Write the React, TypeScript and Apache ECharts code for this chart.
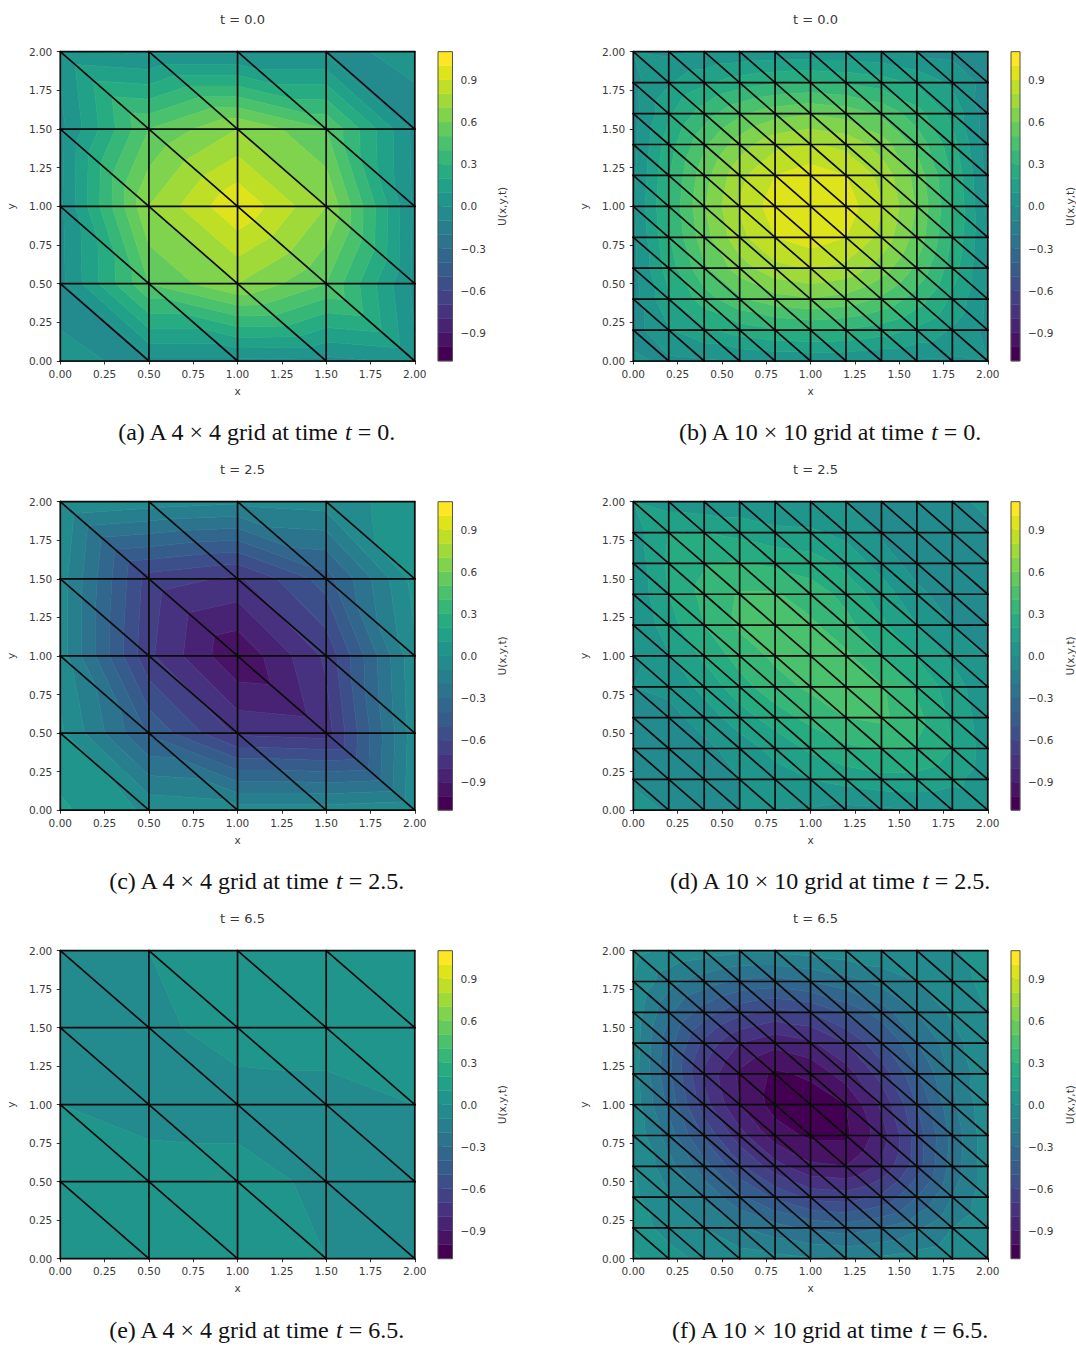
import React, { useEffect, useRef } from "react";
import * as echarts from "echarts";

const xTicksInterval = 0.25;
const colorbarTicks = [-0.9, -0.6, -0.3, 0, 0.3, 0.6, 0.9];
const levelMin = -1.1;
const levelStep = 0.1;
const levelCount = 22;
const viridisStops = ["#440154","#481567","#482677","#453781","#404788","#39568C","#33638D","#2D708E","#287D8E","#238A8D","#1F968B","#20A387","#29AF7F","#3CBB75","#55C667","#73D055","#95D840","#B8DE29","#DCE319","#FDE725"];

const titles = ["t = 0.0", "t = 0.0", "t = 2.5", "t = 2.5", "t = 6.5", "t = 6.5"];
const captions = [
  ["(a) A 4 × 4 grid at time ", "t", " = 0."],
  ["(b) A 10 × 10 grid at time ", "t", " = 0."],
  ["(c) A 4 × 4 grid at time ", "t", " = 2.5."],
  ["(d) A 10 × 10 grid at time ", "t", " = 2.5."],
  ["(e) A 4 × 4 grid at time ", "t", " = 6.5."],
  ["(f) A 10 × 10 grid at time ", "t", " = 6.5."],
];

// Nodal values, rows from y = 2 (top) to y = 0 (bottom), columns from x = 0 to x = 2
const panelA = [
  [0.02, -0.02, -0.02, -0.02, 0.02],
  [-0.03, 0.5, 0.7, 0.5, -0.03],
  [-0.02, 0.7, 0.99, 0.7, -0.02],
  [-0.03, 0.5, 0.7, 0.5, -0.03],
  [0.02, -0.02, -0.02, -0.03, 0.02],
];
const panelB = [
  [0.0, -0.02, 0.0, 0.02, 0.03, 0.03, 0.03, 0.02, -0.02, -0.03, 0.0],
  [-0.03, 0.09, 0.18, 0.25, 0.29, 0.31, 0.29, 0.25, 0.18, 0.08, -0.04],
  [-0.04, 0.18, 0.35, 0.48, 0.56, 0.59, 0.56, 0.48, 0.34, 0.17, -0.05],
  [-0.03, 0.25, 0.48, 0.65, 0.77, 0.81, 0.77, 0.65, 0.47, 0.24, -0.05],
  [-0.02, 0.29, 0.56, 0.77, 0.9, 0.95, 0.9, 0.77, 0.56, 0.29, -0.03],
  [-0.01, 0.31, 0.59, 0.81, 0.95, 0.99, 0.95, 0.81, 0.59, 0.31, -0.02],
  [-0.02, 0.29, 0.56, 0.77, 0.9, 0.95, 0.9, 0.77, 0.56, 0.29, -0.01],
  [-0.03, 0.25, 0.48, 0.65, 0.77, 0.81, 0.77, 0.65, 0.48, 0.25, -0.02],
  [-0.04, 0.18, 0.35, 0.48, 0.56, 0.59, 0.56, 0.48, 0.35, 0.18, -0.02],
  [-0.04, 0.09, 0.18, 0.25, 0.29, 0.31, 0.29, 0.25, 0.18, 0.09, -0.03],
  [0.02, -0.02, -0.01, 0.0, 0.02, 0.02, 0.02, 0.0, -0.01, -0.02, 0.0],
];
const panelC = [
  [0.0, -0.05, -0.08, -0.05, 0.05],
  [-0.05, -0.65, -0.72, -0.45, 0.04],
  [-0.05, -0.68, -0.99, -0.68, -0.02],
  [0.02, -0.42, -0.72, -0.75, -0.04],
  [0.12, -0.02, -0.05, -0.05, -0.02],
];
const panelD = [
  [0.1, 0.05, 0.03, 0.03, 0.0, 0.0, 0.0, -0.05, -0.06, -0.05, 0.05],
  [0.05, 0.2, 0.2, 0.17, 0.13, 0.12, 0.07, -0.02, -0.07, -0.08, -0.05],
  [0.03, 0.22, 0.29, 0.31, 0.28, 0.25, 0.17, 0.06, -0.05, -0.09, -0.1],
  [0.02, 0.2, 0.33, 0.41, 0.41, 0.35, 0.27, 0.15, 0.03, -0.06, -0.09],
  [0.0, 0.16, 0.3, 0.42, 0.44, 0.42, 0.33, 0.22, 0.1, 0.0, -0.06],
  [-0.01, 0.09, 0.22, 0.34, 0.42, 0.43, 0.42, 0.3, 0.19, 0.08, -0.01],
  [0.0, 0.03, 0.13, 0.26, 0.36, 0.42, 0.44, 0.41, 0.28, 0.15, 0.02],
  [-0.04, -0.04, 0.05, 0.15, 0.25, 0.33, 0.4, 0.42, 0.33, 0.18, 0.04],
  [-0.06, -0.07, -0.03, 0.05, 0.13, 0.22, 0.28, 0.31, 0.29, 0.2, 0.05],
  [-0.03, -0.07, -0.06, 0.0, 0.06, 0.1, 0.14, 0.17, 0.17, 0.13, 0.04],
  [0.08, -0.02, -0.05, 0.0, 0.0, -0.01, -0.03, -0.02, 0.0, 0.0, 0.03],
];
const panelE = [
  [-0.05, 0.0, 0.03, 0.04, 0.03],
  [-0.06, -0.03, 0.05, 0.05, 0.05],
  [0.0, -0.05, -0.05, -0.04, 0.0],
  [0.05, 0.06, 0.05, -0.03, -0.05],
  [0.05, 0.05, 0.05, 0.0, -0.04],
];
const panelF = [
  [0.03, -0.02, -0.05, -0.08, -0.08, -0.06, -0.04, -0.02, -0.02, -0.02, 0.08],
  [0.0, -0.16, -0.25, -0.32, -0.34, -0.3, -0.24, -0.17, -0.1, -0.03, 0.02],
  [-0.03, -0.28, -0.45, -0.57, -0.63, -0.6, -0.48, -0.35, -0.2, -0.08, 0.0],
  [-0.04, -0.36, -0.63, -0.8, -0.87, -0.82, -0.7, -0.52, -0.31, -0.14, -0.02],
  [-0.05, -0.38, -0.72, -0.92, -1.02, -0.98, -0.85, -0.66, -0.42, -0.18, -0.03],
  [-0.04, -0.33, -0.66, -0.9, -1.04, -1.06, -1.0, -0.78, -0.5, -0.23, -0.02],
  [-0.02, -0.25, -0.52, -0.76, -0.95, -1.02, -1.02, -0.85, -0.56, -0.27, -0.03],
  [0.0, -0.16, -0.36, -0.58, -0.76, -0.88, -0.9, -0.78, -0.55, -0.26, -0.03],
  [0.02, -0.09, -0.22, -0.38, -0.52, -0.63, -0.65, -0.58, -0.4, -0.2, -0.03],
  [0.04, -0.03, -0.1, -0.19, -0.26, -0.32, -0.35, -0.3, -0.22, -0.1, -0.01],
  [0.12, 0.03, -0.02, -0.05, -0.07, -0.09, -0.1, -0.08, -0.05, -0.02, 0.0],
];
const panels = [panelA, panelB, panelC, panelD, panelE, panelF];

const plotLeft = [60.3, 633.3];
const plotWidth = 354.5;
const cbarLeft = [438, 1011];
const cbarWidth = 14.5;
const rowTop = [51.7, 501.7, 950.7];
const rowHeight = [309.3, 308.5, 308];
const titleTop = [8, 458, 907];
const captionY = [432, 881, 1330];
const captionX = [256, 829.5];

const FONT = "DejaVu Sans";
const TXT = "#3a3a3a";

function hexToRgb(h: string) {
  return [parseInt(h.slice(1, 3), 16), parseInt(h.slice(3, 5), 16), parseInt(h.slice(5, 7), 16)];
}
function bandColor(i: number) {
  const p = (i / (levelCount - 1)) * (viridisStops.length - 1);
  const a = Math.min(Math.floor(p), viridisStops.length - 2);
  const f = p - a;
  const c0 = hexToRgb(viridisStops[a]);
  const c1 = hexToRgb(viridisStops[a + 1]);
  return `rgb(${c0.map((c, k) => Math.round(c + (c1[k] - c) * f)).join(",")})`;
}

type P = [number, number, number];
function clip(poly: P[], level: number, keepAbove: boolean): P[] {
  const out: P[] = [];
  for (let i = 0; i < poly.length; i++) {
    const a = poly[i];
    const b = poly[(i + 1) % poly.length];
    const ia = keepAbove ? a[2] >= level : a[2] <= level;
    const ib = keepAbove ? b[2] >= level : b[2] <= level;
    if (ia) out.push(a);
    if (ia !== ib) {
      const t = (level - a[2]) / (b[2] - a[2]);
      out.push([a[0] + (b[0] - a[0]) * t, a[1] + (b[1] - a[1]) * t, level]);
    }
  }
  return out;
}

function triangles(values: number[][]) {
  const n = values.length - 1;
  const d = 2 / n;
  const res: number[][] = [];
  for (let r = 0; r < n; r++) {
    for (let c = 0; c < n; c++) {
      const xl = c * d, xr = (c + 1) * d, yt = 2 - r * d, yb = 2 - (r + 1) * d;
      const tl = values[r][c], tr = values[r][c + 1], bl = values[r + 1][c], br = values[r + 1][c + 1];
      res.push([xl, yt, tl, xr, yt, tr, xr, yb, br]);
      res.push([xl, yt, tl, xl, yb, bl, xr, yb, br]);
    }
  }
  return res;
}

function edges(cells: number) {
  const d = 2 / cells;
  const res: number[][] = [];
  for (let r = 0; r <= cells; r++) {
    for (let c = 0; c <= cells; c++) {
      const x = c * d, y = 2 - r * d;
      if (c < cells) res.push([x, y, x + d, y]);
      if (r < cells) res.push([x, y, x, y - d]);
      if (c < cells && r < cells) res.push([x, y, x + d, y - d]);
    }
  }
  return res;
}

function renderContour(_: any, api: any) {
  const v = [0, 1, 2, 3, 4, 5, 6, 7, 8].map((k) => api.value(k) as number);
  const tri: P[] = [[v[0], v[1], v[2]], [v[3], v[4], v[5]], [v[6], v[7], v[8]]];
  const children: any[] = [];
  for (let i = 0; i < levelCount; i++) {
    const lo = levelMin + i * levelStep;
    const hi = lo + levelStep;
    let poly = clip(tri, lo, true);
    if (poly.length) poly = clip(poly, hi, false);
    if (poly.length < 3) continue;
    const color = bandColor(i);
    children.push({
      type: "polygon",
      shape: { points: poly.map((p) => api.coord([p[0], p[1]])) },
      style: { fill: color, stroke: color, lineWidth: 0.6 },
    });
  }
  return { type: "group", children };
}

function renderMesh(_: any, api: any) {
  const a = api.coord([api.value(0), api.value(1)]);
  const b = api.coord([api.value(2), api.value(3)]);
  return {
    type: "line",
    shape: { x1: a[0], y1: a[1], x2: b[0], y2: b[1] },
    style: { stroke: "#0a0a0a", lineWidth: 1.7, lineCap: "round" },
  };
}

function renderBand(_: any, api: any) {
  const lo = api.value(0), hi = api.value(1);
  const a = api.coord([0, hi]);
  const b = api.coord([1, lo]);
  return {
    type: "rect",
    shape: { x: a[0], y: a[1], width: b[0] - a[0], height: b[1] - a[1] },
    style: api.value(2) < 0
      ? { fill: "none", stroke: "#555", lineWidth: 1 }
      : { fill: bandColor(api.value(2)), stroke: bandColor(api.value(2)), lineWidth: 0.4 },
  };
}

function buildOption() {
  const grid: any[] = [], xAxis: any[] = [], yAxis: any[] = [], series: any[] = [], title: any[] = [], graphic: any[] = [];
  panels.forEach((vals, idx) => {
    const col = idx % 2, row = Math.floor(idx / 2);
    const g = grid.length;
    grid.push({ left: plotLeft[col], top: rowTop[row], width: plotWidth, height: rowHeight[row] });
    const tickLabel = { fontFamily: FONT, fontSize: 10.5, color: TXT, formatter: (v: number) => v.toFixed(2) };
    const axisCommon = {
      type: "value", min: 0, max: 2, interval: xTicksInterval, gridIndex: g,
      splitLine: { show: false },
      axisLine: { show: true, onZero: false, lineStyle: { color: "#333", width: 1 } },
      axisTick: { show: true, length: 3.5, lineStyle: { color: "#333", width: 1 } },
      nameLocation: "middle",
      nameTextStyle: { fontFamily: FONT, fontSize: 10.5, color: TXT },
    };
    xAxis.push({ ...axisCommon, position: "bottom", name: "x", nameGap: 24, axisLabel: { ...tickLabel, margin: 7 } });
    yAxis.push({ ...axisCommon, position: "left", name: "y", nameGap: 44, nameRotate: 90, axisLabel: { ...tickLabel, margin: 8 } });
    series.push({
      type: "custom", xAxisIndex: g, yAxisIndex: g, coordinateSystem: "cartesian2d", silent: true, clip: false,
      renderItem: renderContour, data: triangles(vals), encode: { x: [0, 3, 6], y: [1, 4, 7] }, z: 2,
    });
    series.push({
      type: "custom", xAxisIndex: g, yAxisIndex: g, coordinateSystem: "cartesian2d", silent: true, clip: false,
      renderItem: renderMesh, data: edges(vals.length - 1), encode: { x: [0, 2], y: [1, 3] }, z: 3,
    });

    const gb = grid.length;
    grid.push({ left: cbarLeft[col], top: rowTop[row], width: cbarWidth, height: rowHeight[row] });
    xAxis.push({ type: "value", min: 0, max: 1, gridIndex: gb, show: false });
    yAxis.push({
      type: "value", min: levelMin, max: -levelMin, gridIndex: gb, position: "right",
      splitLine: { show: false }, axisLine: { show: false },
      axisTick: { show: true, length: 3.5, customValues: colorbarTicks, lineStyle: { color: "#333", width: 1 } },
      axisLabel: {
        show: true, customValues: colorbarTicks, margin: 8, fontFamily: FONT, fontSize: 10.5, color: TXT,
        formatter: (v: number) => v.toFixed(1).replace("-", "\u2212"),
      },
      name: "U(x,y,t)", nameLocation: "middle", nameRotate: 90, nameGap: 44,
      nameTextStyle: { fontFamily: FONT, fontSize: 10.5, color: TXT },
    });
    const bands: number[][] = [];
    for (let i = 0; i < levelCount; i++) bands.push([levelMin + i * levelStep, levelMin + (i + 1) * levelStep, i]);
    bands.push([levelMin, -levelMin, -1]);
    series.push({
      type: "custom", xAxisIndex: gb, yAxisIndex: gb, coordinateSystem: "cartesian2d", silent: true, clip: false,
      renderItem: renderBand, data: bands, encode: { y: [0, 1] }, z: 2,
    });

    title.push({
      text: titles[idx], left: plotLeft[col] + plotWidth / 2, top: titleTop[row], textAlign: "center",
      textStyle: { fontFamily: FONT, fontSize: 13, fontWeight: "normal", color: TXT },
    });
    const [c0, c1, c2] = captions[idx];
    graphic.push({
      type: "text", x: captionX[col], y: captionY[row],
      style: {
        text: `{r|${c0}}{i|${c1}}{r|${c2}}`, align: "center", verticalAlign: "middle",
        rich: {
          r: { fontFamily: "Liberation Serif", fontSize: 24, fill: "#111" },
          i: { fontFamily: "Liberation Serif", fontSize: 24, fontStyle: "italic", fill: "#111" },
        },
      },
    });
  });
  return { animation: false, backgroundColor: "#fff", grid, xAxis, yAxis, series, title, graphic };
}

export default function App() {
  const ref = useRef<HTMLDivElement>(null);
  useEffect(() => {
    const chart = echarts.init(ref.current!, undefined, { renderer: "svg" });
    chart.setOption(buildOption() as any);
    return () => chart.dispose();
  }, []);
  return <div ref={ref} style={{ position: "absolute", left: 0, top: 0, width: 1076, height: 1346 }} />;
}
